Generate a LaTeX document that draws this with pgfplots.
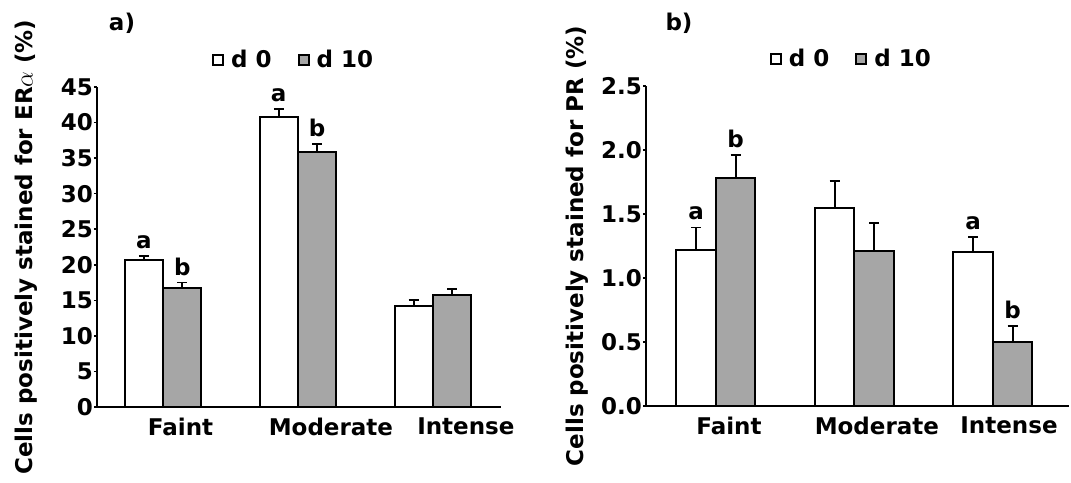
\documentclass[border=0pt]{standalone}
\usepackage{pgfplots}
\pgfplotsset{compat=1.18}
\usepackage{pgfplotstable}
\usepackage{fontspec}
\setmainfont{DejaVu Sans}
\definecolor{barfill}{HTML}{A6A6A6}
\newcommand\lab{\fontsize{23}{27}\selectfont\bfseries}

% ER alpha, % cells
\pgfplotstableread{
x d0 e0 d10 e10
0 20.7 0.5 16.8 0.7
1 40.8 1.1 35.8 1.2
2 14.2 0.8 15.8 0.75
}\ertab
% PR, % cells
\pgfplotstableread{
x d0 e0 d10 e10
0 1.22 0.175 1.78 0.18
1 1.55 0.21 1.21 0.22
2 1.20 0.12 0.50 0.125
}\prtab

\tikzset{letter/.style={font=\lab, anchor=south, inner sep=0pt, yshift=7pt}}
\pgfplotsset{
  panel/.style={
    scale only axis, anchor=south west, clip=false,
    axis x line=bottom, axis y line=left,
    axis line style={-, line width=2pt},
    tick align=outside, major tick length=3pt,
    y tick style={line width=1.6pt, black},
    x tick style={draw=none},
    tick label style={font=\lab},
    yticklabel style={inner sep=1pt},
    xticklabel style={yshift=-4pt},
    /pgf/number format/assume math mode=true,
    ylabel style={font=\lab, anchor=center},
    legend columns=2,
    legend style={draw=none, fill=none, font=\lab, anchor=center, yshift=27pt,
      nodes={inner sep=4pt},
      /tikz/every odd column/.append style={column sep=3pt},
      /tikz/every even column/.append style={column sep=22pt}},
  },
  bars/.style={ybar, bar width=0.285, bar shift=#1, draw=black,
    legend image code/.code={\draw[line width=2pt] (0pt,-5pt) rectangle (10pt,5pt);}},
  errs/.style={forget plot, draw=none, mark=none,
    error bars/.cd, y dir=plus, y explicit,
    error bar style={draw=black, line width=1.8pt, solid},
    error mark options={draw=black, line width=1.8pt, mark size=5pt, rotate=90}},
}

\begin{document}
\begin{tikzpicture}
\begin{axis}[panel,
  at={(97pt,75pt)}, width=404pt, height=320pt,
  xmin=-0.489, xmax=2.504, ymin=0, ymax=45,
  ytick={0,5,...,45},
  xtick={0.13,1.244,2.244}, xticklabels={Faint,Moderate,Intense},
  ylabel={Cells positively stained for ER$\alpha$ (\%)},
  ylabel style={at={(axis description cs:-0.175,0.5)}},
  legend style={at={(0.489,1)}},
]
\addplot[errs] table[x expr=\thisrow{x}-0.1425, y=d0, y error=e0] {\ertab};
\addplot[errs] table[x expr=\thisrow{x}+0.1425, y=d10, y error=e10] {\ertab};
\addplot[bars=-0.1425, fill=white, line width=2pt] table[x=x, y=d0] {\ertab};
\addlegendentry{d 0}
\addplot[bars=0.1425, fill=barfill, line width=2pt, legend image code/.code={\draw[line width=2pt, fill=barfill] (0pt,-5pt) rectangle (10pt,5pt);}] table[x=x, y=d10] {\ertab};
\addlegendentry{d 10}
\node[letter] at (axis cs:-0.1425,21.2) {a};
\node[letter] at (axis cs:0.1425,17.5) {b};
\node[letter] at (axis cs:0.8575,41.9) {a};
\node[letter] at (axis cs:1.1425,37.0) {b};
\end{axis}

\begin{axis}[panel,
  at={(646pt,76pt)}, width=423pt, height=320pt,
  xmin=-0.505, xmax=2.549, ymin=0, ymax=2.5,
  ytick={0,0.5,...,2.5},
  yticklabel style={/pgf/number format/.cd, fixed, fixed zerofill, precision=1},
  xtick={0.094,1.162,2.116}, xticklabels={Faint,Moderate,Intense},
  ylabel={Cells positively stained for PR (\%)},
  ylabel style={at={(axis description cs:-0.163,0.5)}},
  legend style={at={(0.488,1)}},
]
\addplot[errs] table[x expr=\thisrow{x}-0.1425, y=d0, y error=e0] {\prtab};
\addplot[errs] table[x expr=\thisrow{x}+0.1425, y=d10, y error=e10] {\prtab};
\addplot[bars=-0.1425, fill=white, line width=2pt] table[x=x, y=d0] {\prtab};
\addlegendentry{d 0}
\addplot[bars=0.1425, fill=barfill, line width=2pt, legend image code/.code={\draw[line width=2pt, fill=barfill] (0pt,-5pt) rectangle (10pt,5pt);}] table[x=x, y=d10] {\prtab};
\addlegendentry{d 10}
\node[letter] at (axis cs:-0.1425,1.395) {a};
\node[letter] at (axis cs:0.1425,1.96) {b};
\node[letter] at (axis cs:1.8575,1.32) {a};
\node[letter] at (axis cs:2.1425,0.625) {b};
\end{axis}

\node[font=\lab] at (122pt,459pt) {a)};
\node[font=\lab] at (679pt,459pt) {b)};
\pgfresetboundingbox
\path[use as bounding box] (0,0) rectangle (1071pt,482pt);
\end{tikzpicture}
\end{document}
